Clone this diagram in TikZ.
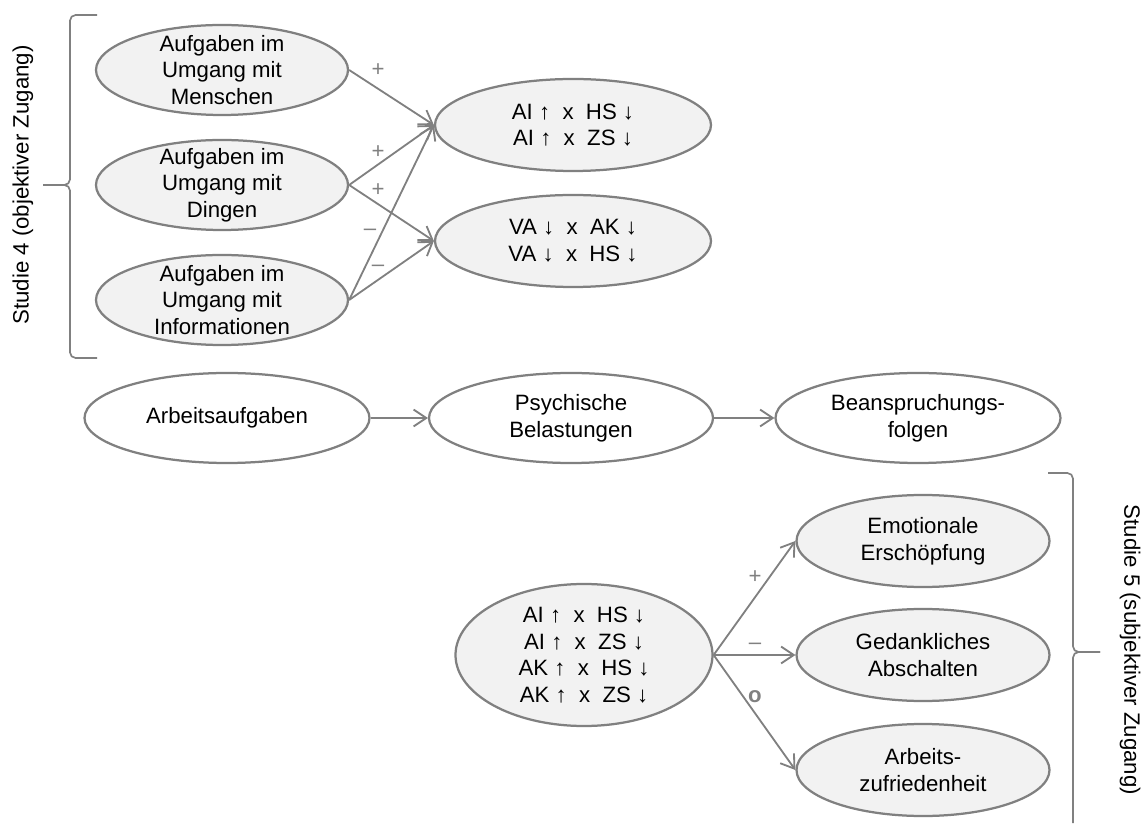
\documentclass[tikz,border=0pt]{standalone}
\usepackage{fontspec}
\setmainfont{Liberation Sans}
\usetikzlibrary{shapes.geometric,arrows.meta,positioning}
\definecolor{linegray}{RGB}{128,128,128}
\definecolor{fillgray}{RGB}{242,242,242}

\begin{document}
\begin{tikzpicture}[
  task/.style={ellipse, draw=linegray, line width=1.6pt, fill=fillgray, inner xsep=0pt, inner ysep=-6pt, align=center},
  plain/.style={task, fill=white},
  conn/.style={draw=linegray, line width=1.3pt, -{Straight Barb[length=9pt,width=12pt]}},
  sign/.style={text=linegray, inner sep=0pt},
  brace/.style={draw=linegray, line width=1.2pt, rounded corners=4pt},
  font=\fontsize{15.8}{19}\selectfont
 ]
 \useasboundingbox (0,0) rectangle (28.55,20.575);

 % coordinates
 \coordinate (c0) at (5.55,18.825);
 \coordinate (c1) at (5.55,15.95);
 \coordinate (c2) at (5.55,13.075);
 \coordinate (c3) at (14.325,17.45);
 \coordinate (c4) at (14.325,14.55);
 \coordinate (c5) at (14.6,4.2);
 \coordinate (c6) at (23.075,7.05);
 \coordinate (c7) at (23.075,4.2);
 \coordinate (c8) at (23.075,1.325);

 % study 4
 \node[task,minimum width=6.3cm,minimum height=2.25cm] (a0) at (c0) {Aufgaben im\\Umgang mit\\Menschen};
 \node[task,minimum width=6.3cm,minimum height=2.25cm] (a1) at (c1) {Aufgaben im\\Umgang mit\\Dingen};
 \node[task,minimum width=6.3cm,minimum height=2.25cm] (a2) at (c2) {Aufgaben im\\Umgang mit\\Informationen};
 \node[task,minimum width=6.9cm,minimum height=2.3cm] (b0) at (c3) {AI ↑\ \ x\ \ HS ↓\\AI ↑\ \ x\ \ ZS ↓};
 \node[task,minimum width=6.9cm,minimum height=2.3cm] (b1) at (c4) {VA ↓\ \ x\ \ AK ↓\\VA ↓\ \ x\ \ HS ↓};

 % model
 \node[plain,minimum width=7.125cm,minimum height=2.25cm] (r0) at (5.675,10.125) {Arbeitsaufgaben};
 \node[plain,minimum width=7.1cm,minimum height=2.25cm] (r1) at (14.275,10.125) {Psychische\\Belastungen};
 \node[plain,minimum width=7.125cm,minimum height=2.25cm] (r2) at (22.95,10.125) {Beanspruchungs-\\folgen};

 % study 5
 \node[task,minimum width=6.425cm,minimum height=3.55cm] (b2) at (c5) {AI ↑\ \ x\ \ HS ↓\\AI ↑\ \ x\ \ ZS ↓\\AK ↑\ \ x\ \ HS ↓\\AK ↑\ \ x\ \ ZS ↓};
 \node[task,minimum width=6.325cm,minimum height=2.3cm] (f0) at (c6) {Emotionale\\Erschöpfung};
 \node[task,minimum width=6.325cm,minimum height=2.3cm] (f1) at (c7) {Gedankliches\\Abschalten};
 \node[task,minimum width=6.325cm,minimum height=2.3cm] (f2) at (c8) {Arbeits-\\zufriedenheit};

 % connectors
 \foreach \a/\b in {a0/b0,a1/b0,a1/b1,a2/b0,a2/b1,r0/r1,r1/r2,b2/f0,b2/f1,b2/f2} {
  \draw[conn] (\a.east) -- (\b.west);
 };

 % signs
 \node[sign] (s0) at (9.45,18.825) {+};
 \node[sign] (s1) at (9.45,16.775) {+};
 \node[sign] (s2) at (9.45,15.825) {+};
 \node[sign] (s3) at (9.25,14.775) {–};
 \node[sign] (s4) at (9.45,13.875) {–};
 \node[sign] (s5) at (18.875,6.15) {+};
 \node[sign] (s6) at (18.875,4.425) {–};
 \node[sign,font=\fontsize{15.8}{19}\selectfont\bfseries] (s7) at (18.875,3.15) {o};

 % braces
 \draw[brace] (2.425,20.2) -- (1.75,20.2) -- (1.75,15.95) -- (1.075,15.95);
 \draw[brace] (2.425,11.625) -- (1.75,11.625) -- (1.75,15.95) -- (1.075,15.95);
 \draw[brace] (26.2,8.75) -- (26.825,8.75) -- (26.825,4.275) -- (27.5,4.275);
 \draw[brace] (26.825,0) -- (26.825,4.275) -- (27.5,4.275);
 \node[rotate=90] (t4) at (0.575,15.95) {Studie 4 (objektiver Zugang)};
 \node[rotate=-90] (t5) at (28.25,4.325) {Studie 5 (subjektiver Zugang)};
\end{tikzpicture}
\end{document}
